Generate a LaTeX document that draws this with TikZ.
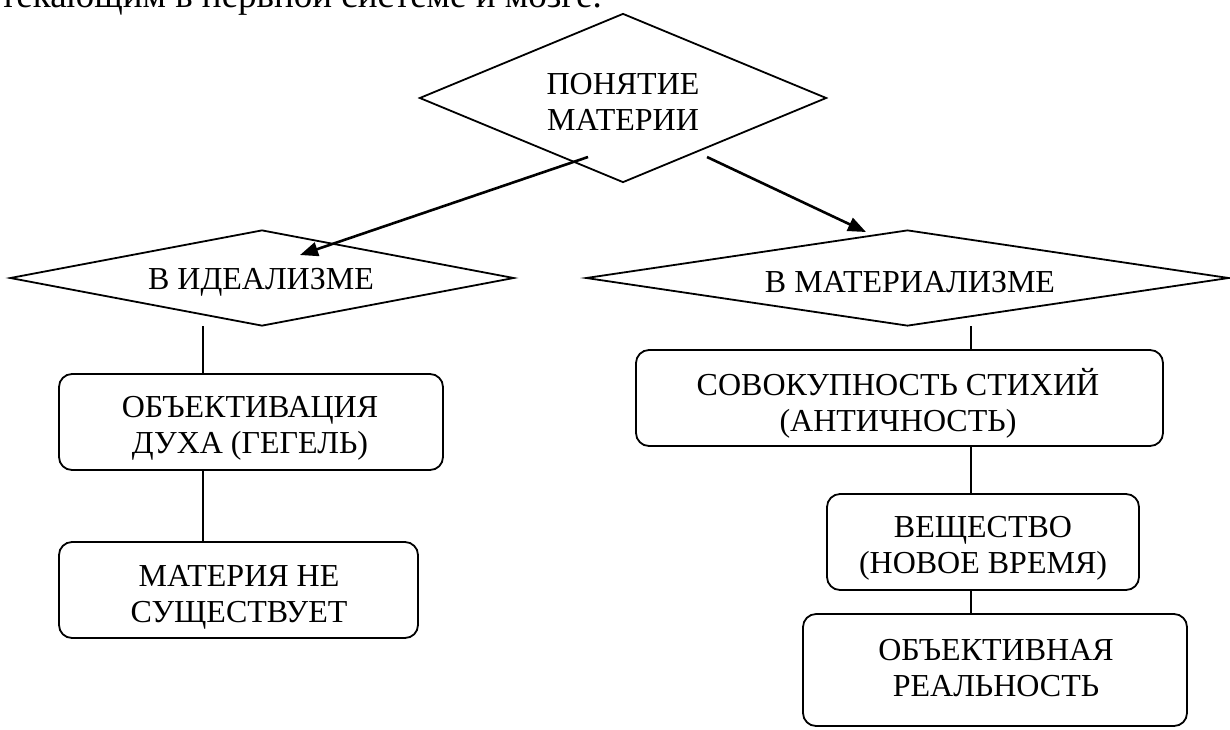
\documentclass[tikz,border=0pt]{standalone}
\usepackage{fontspec}
\setmainfont{Liberation Serif}
\usetikzlibrary{shapes.geometric,arrows.meta}
\begin{document}
\begin{tikzpicture}[x=1pt,y=-1pt,
  dia/.style={diamond, draw, line width=1.8pt, inner sep=0pt},
  box/.style={draw, rounded corners=13pt, line width=1.8pt, inner sep=0pt},
  txt/.style={font=\fontsize{32}{36}\selectfont, align=center, inner sep=0pt},
  link/.style={line width=1.8pt},
  arr/.style={line width=2.6pt, -{Triangle[length=18pt,width=14pt]}}]
\useasboundingbox (0,0) rectangle (1230,729);
\fill[white] (0,0) rectangle (1230,729);
\clip (0,0) rectangle (1230,729);

\node[font=\fontsize{37}{40}\selectfont, inner sep=0pt, anchor=base east] (head) at (602,7) {текающим в нервной системе и мозге.};

% diamonds
\node[dia, minimum width=407pt, minimum height=169pt] (d1) at (623,98) {};
\node[txt] (t1) at (623,102) {ПОНЯТИЕ\\МАТЕРИИ};
\node[dia, minimum width=504pt, minimum height=96pt] (d2) at (262,278) {};
\node[txt] (t2) at (261,282) {В ИДЕАЛИЗМЕ};
\node[dia, minimum width=643pt, minimum height=96pt] (d3) at (907.5,278) {};
\node[txt] (t3) at (910,282) {В МАТЕРИАЛИЗМЕ};

% boxes
\node[box, minimum width=384pt, minimum height=96pt] (b1) at (251,422) {};
\node[txt] (tb1) at (250,428) {ОБЪЕКТИВАЦИЯ\\ДУХА (ГЕГЕЛЬ)};
\node[box, minimum width=359pt, minimum height=96pt] (b2) at (238.5,590) {};
\node[txt] (tb2) at (239,597) {МАТЕРИЯ НЕ\\СУЩЕСТВУЕТ};
\node[box, minimum width=527pt, minimum height=96pt] (b3) at (899.5,398) {};
\node[txt] (tb3) at (898,403) {СОВОКУПНОСТЬ СТИХИЙ\\(АНТИЧНОСТЬ)};
\node[box, minimum width=312pt, minimum height=96pt] (b4) at (983,542) {};
\node[txt] (tb4) at (983,548) {ВЕЩЕСТВО\\(НОВОЕ ВРЕМЯ)};
\node[box, minimum width=384pt, minimum height=112pt] (b5) at (995,670) {};
\node[txt] (tb5) at (996,668) {ОБЪЕКТИВНАЯ\\РЕАЛЬНОСТЬ};

% arrows
\coordinate (a1s) at (588,157);
\coordinate (a1e) at (300,255);
\coordinate (a2s) at (707,157);
\coordinate (a2e) at (866,232);
\draw[arr] (a1s) -- (a1e);
\draw[arr] (a2s) -- (a2e);

% plain links
\coordinate (l1) at (203,326);
\coordinate (l3) at (971,326);
\draw[link] (l1) -- (l1 |- b1.north);
\draw[link] (l1 |- b1.south) -- (l1 |- b2.north);
\draw[link] (l3) -- (l3 |- b3.north);
\draw[link] (l3 |- b3.south) -- (l3 |- b4.north);
\draw[link] (l3 |- b4.south) -- (l3 |- b5.north);
\end{tikzpicture}
\end{document}
